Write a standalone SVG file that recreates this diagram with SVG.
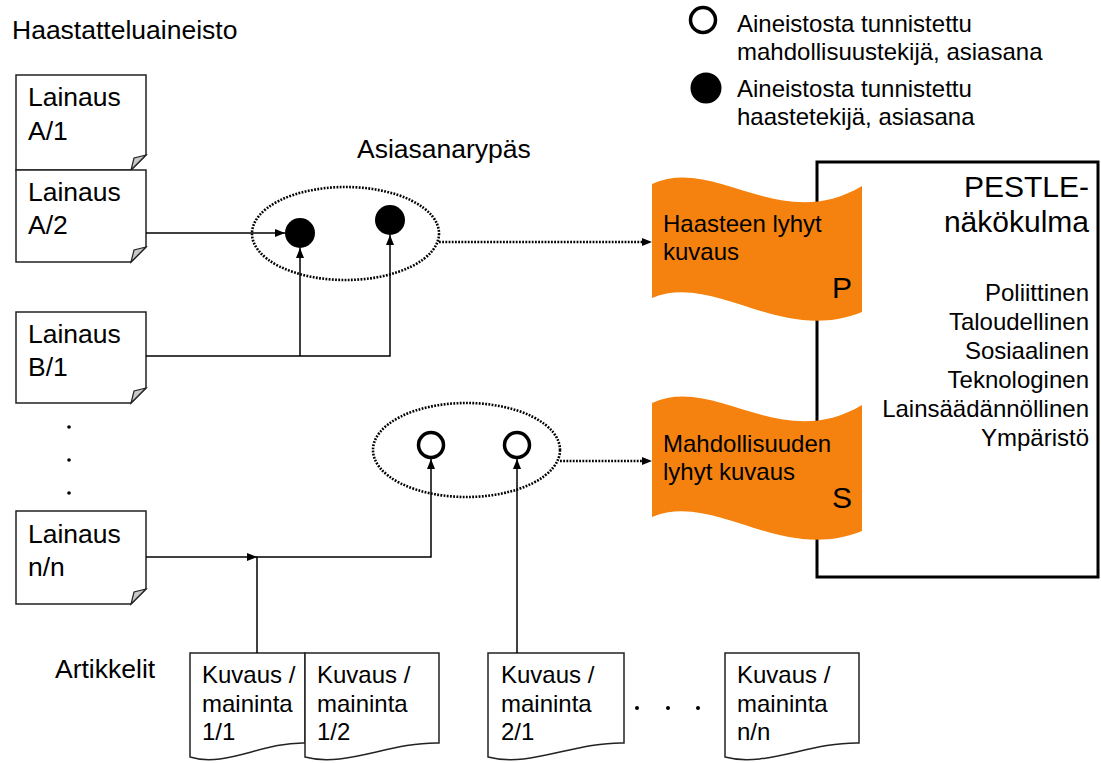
<svg xmlns="http://www.w3.org/2000/svg" width="1101" height="763" viewBox="0 0 1101 763">
<defs>
<style>
text{font-family:"Liberation Sans",Arial,sans-serif;fill:#000}
.t26{font-size:26.5px}
.t24{font-size:24px}
.t30{font-size:30px}
.box{fill:#fff;stroke:#222;stroke-width:1.5}
.fold{fill:#c8c8c8;stroke:#222;stroke-width:1.2}
.ln{fill:none;stroke:#000;stroke-width:1.5}
.dot{fill:none;stroke:#000;stroke-width:2.6;stroke-dasharray:1.8 1.4}
.flag{fill:#F5820F}
</style>
<marker id="ah" markerUnits="userSpaceOnUse" markerWidth="10" markerHeight="8" refX="10" refY="4" orient="auto">
<path d="M0,0 L10,4 L0,8 Z" fill="#000"/>
</marker>
</defs>
<rect width="1101" height="763" fill="#fff"/>

<text class="t26" x="12" y="39">Haastatteluaineisto</text>
<text class="t26" x="357" y="158">Asiasanarypäs</text>
<text class="t26" x="55" y="678">Artikkelit</text>

<g id="legend">
<circle cx="703" cy="20" r="12.5" fill="#fff" stroke="#000" stroke-width="3.5"/>
<text class="t24" x="737" y="32">Aineistosta tunnistettu</text>
<text class="t24" x="737" y="60">mahdollisuustekijä, asiasana</text>
<circle cx="706" cy="88" r="15.5" fill="#000"/>
<text class="t24" x="737" y="97">Aineistosta tunnistettu</text>
<text class="t24" x="737" y="125">haastetekijä, asiasana</text>
</g>

<g id="pestle">
<rect x="817" y="162" width="281" height="415" fill="#fff" stroke="#000" stroke-width="3"/>
<g class="t30" text-anchor="end">
<text x="1089" y="197">PESTLE-</text>
<text x="1089" y="232">näkökulma</text>
</g>
<g class="t24" text-anchor="end">
<text x="1089" y="301">Poliittinen</text>
<text x="1089" y="330">Taloudellinen</text>
<text x="1089" y="359">Sosiaalinen</text>
<text x="1089" y="388">Teknologinen</text>
<text x="1089" y="417">Lainsäädännöllinen</text>
<text x="1089" y="446">Ympäristö</text>
</g>
</g>

<g id="lainaus-a1">
<path class="box" d="M16,75 H146 V155 L131,170 H16 Z"/>
<path class="fold" d="M146,155 L131,170 L134,158 Z"/>
<text class="t26" x="28" y="106">Lainaus</text>
<text class="t26" x="28" y="140">A/1</text>
</g>
<g id="lainaus-a2">
<path class="box" d="M16,170 H146 V247 L131,262 H16 Z"/>
<path class="fold" d="M146,247 L131,262 L134,250 Z"/>
<text class="t26" x="28" y="201">Lainaus</text>
<text class="t26" x="28" y="234">A/2</text>
</g>
<g id="lainaus-b1">
<path class="box" d="M16,312 H146 V388 L131,403 H16 Z"/>
<path class="fold" d="M146,388 L131,403 L134,391 Z"/>
<text class="t26" x="28" y="343">Lainaus</text>
<text class="t26" x="28" y="376">B/1</text>
</g>
<g id="lainaus-dots">
<circle cx="69" cy="427" r="1.8" fill="#000"/>
<circle cx="69" cy="460" r="1.8" fill="#000"/>
<circle cx="69" cy="493" r="1.8" fill="#000"/>
</g>
<g id="lainaus-nn">
<path class="box" d="M16,511 H146 V589 L131,604 H16 Z"/>
<path class="fold" d="M146,589 L131,604 L134,592 Z"/>
<text class="t26" x="28" y="543">Lainaus</text>
<text class="t26" x="28" y="576">n/n</text>
</g>

<g id="kuvaus-11">
<path class="box" d="M190,653 H305 V743 C262,742 225,768 190,757 Z"/>
<text class="t24" x="202" y="683">Kuvaus /</text>
<text class="t24" x="202" y="712">maininta</text>
<text class="t24" x="202" y="740">1/1</text>
</g>
<g id="kuvaus-12">
<path class="box" d="M305,653 H439 V743 C389,742 345,768 305,757 Z"/>
<text class="t24" x="317" y="683">Kuvaus /</text>
<text class="t24" x="317" y="712">maininta</text>
<text class="t24" x="317" y="740">1/2</text>
</g>
<g id="kuvaus-21">
<path class="box" d="M488,653 H624 V743 C574,742 529,768 488,757 Z"/>
<text class="t24" x="501" y="683">Kuvaus /</text>
<text class="t24" x="501" y="712">maininta</text>
<text class="t24" x="501" y="740">2/1</text>
</g>
<g id="kuvaus-dots">
<circle cx="637" cy="708" r="2" fill="#000"/>
<circle cx="668" cy="708" r="2" fill="#000"/>
<circle cx="698" cy="708" r="2" fill="#000"/>
</g>
<g id="kuvaus-nn">
<path class="box" d="M725,653 H859 V743 C809,742 765,768 725,757 Z"/>
<text class="t24" x="737" y="683">Kuvaus /</text>
<text class="t24" x="737" y="712">maininta</text>
<text class="t24" x="737" y="740">n/n</text>
</g>

<g id="cluster-haaste">
<ellipse class="dot" cx="345.5" cy="233.5" rx="93.5" ry="46.5"/>
<circle cx="300" cy="233" r="15" fill="#000"/>
<circle cx="390" cy="220" r="15" fill="#000"/>
</g>
<g id="cluster-mahdollisuus">
<ellipse class="dot" cx="466.5" cy="450" rx="93.5" ry="47"/>
<circle cx="431" cy="445" r="12.5" fill="#fff" stroke="#000" stroke-width="3.5"/>
<circle cx="517" cy="445" r="12.5" fill="#fff" stroke="#000" stroke-width="3.5"/>
</g>

<g id="flag-p">
<path class="flag" d="M652,184 C715,155 780,235 862,186 L862,312 C780,345 715,272 652,298 Z"/>
<text class="t24" x="663" y="232">Haasteen lyhyt</text>
<text class="t24" x="663" y="260">kuvaus</text>
<text class="t30" x="852" y="298" text-anchor="end">P</text>
</g>
<g id="flag-s">
<path class="flag" d="M652,403 C715,374 780,454 862,405 L862,531 C780,564 715,491 652,517 Z"/>
<text class="t24" x="663" y="452">Mahdollisuuden</text>
<text class="t24" x="663" y="480">lyhyt kuvaus</text>
<text class="t30" x="852" y="508" text-anchor="end">S</text>
</g>

<g id="connectors">
<path class="ln" d="M146,233 H285" marker-end="url(#ah)"/>
<path class="ln" d="M146,356 H390 V235" marker-end="url(#ah)"/>
<path class="ln" d="M300,356 V248" marker-end="url(#ah)"/>
<path class="dot" d="M439,242 H644"/>
<path d="M642,238 L652,242 L642,246 Z" fill="#000"/>
<path class="ln" d="M146,557 H257" marker-end="url(#ah)"/>
<path class="ln" d="M257,653 V557 H431 V459" marker-end="url(#ah)"/>
<path class="ln" d="M517,653 V459" marker-end="url(#ah)"/>
<path class="dot" d="M560,461 H644"/>
<path d="M642,457 L652,461 L642,465 Z" fill="#000"/>
</g>
</svg>
